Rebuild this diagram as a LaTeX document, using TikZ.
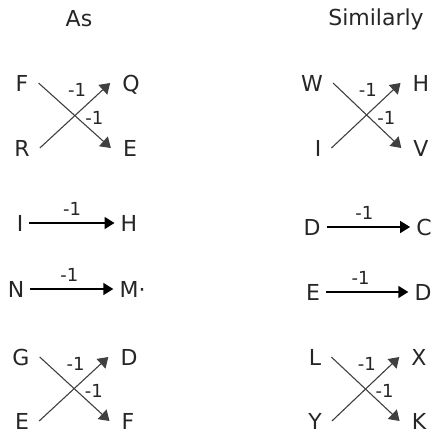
\documentclass[tikz,border=0pt]{standalone}
\usepackage{fontspec}
\setmainfont{DejaVu Sans}
\usetikzlibrary{arrows.meta,positioning}

\begin{document}
\begin{tikzpicture}[
  x=1pt, y=-1pt,
  letter/.style={inner xsep=6pt, inner ysep=0pt, text height=16pt, text depth=0pt,
    text=black!85, font=\fontsize{22}{26}\selectfont},
  xl/.style={letter, inner xsep=10pt},
  xr/.style={letter, inner xsep=12pt},
  title/.style={letter, inner sep=0pt},
  lab/.style={inner sep=0pt, text height=13pt, text depth=0pt, text=black!85,
    font=\fontsize{18}{22}\selectfont},
  harrow/.style={-{Triangle[length=10pt,width=12pt]}, line width=1.5pt},
  xarrow/.style={-{Triangle[length=10pt,width=13pt]}, line width=1.1pt, black!75}
]
  \useasboundingbox (0,0) rectangle (436,434);

  \node[title] (as) at (79,18) {As};
  \node[title] (sim) at (376,17) {Similarly};

  % left column
  \node[xl] (F) at (22,83) {F};
  \node[xl] (R) at (22,148) {R};
  \node[xr] (Q) at (131,83) {Q};
  \node[xr] (Ea) at (130,148) {E};
  \draw[xarrow] (F.east) -- node[lab, pos=.64, anchor=south west] {-1} (Ea.west);
  \draw[xarrow] (R.east) -- node[lab, pos=.78, above left=0pt and 8pt] {-1} (Q.west);

  \node[letter] (Ia) at (20,223) {I};
  \node[letter] (Ha) at (129,223) {H};
  \draw[harrow] (Ia) -- node[lab, pos=.5, above=7pt] {-1} (Ha);

  \node[letter] (N) at (16,289) {N};
  \node[letter] (M) at (132.5,289) {M·};
  \draw[harrow] (N) -- node[lab, pos=.47, above=7pt] {-1} (M);

  \node[xl] (G) at (21,357) {G};
  \node[xl] (Eb) at (22,421) {E};
  \node[xr] (Da) at (129,357) {D};
  \node[xr] (Fb) at (128,421) {F};
  \draw[xarrow] (G.east) -- node[lab, pos=.64, anchor=south west] {-1} (Fb.west);
  \draw[xarrow] (Eb.east) -- node[lab, pos=.78, above left=0pt and 8pt] {-1} (Da.west);

  % right column
  \node[xl] (W) at (312,83) {W};
  \node[xl] (Ib) at (318,148) {I};
  \node[xr] (Hb) at (421,83) {H};
  \node[xr] (V) at (421,148) {V};
  \draw[xarrow] (W.east) -- node[lab, pos=.64, anchor=south west] {-1} (V.west);
  \draw[xarrow] (Ib.east) -- node[lab, pos=.78, above left=0pt and 8pt] {-1} (Hb.west);

  \node[letter] (Db) at (312,227) {D};
  \node[letter] (C) at (424,227) {C};
  \draw[harrow] (Db) -- node[lab, pos=.45, above=7pt] {-1} (C);

  \node[letter] (Ec) at (313,292) {E};
  \node[letter] (Dc) at (423,292) {D};
  \draw[harrow] (Ec) -- node[lab, pos=.42, above=7pt] {-1} (Dc);

  \node[xl] (L) at (315,357) {L};
  \node[xl] (Y) at (315,421) {Y};
  \node[xr] (X) at (419,357) {X};
  \node[xr] (K) at (419,421) {K};
  \draw[xarrow] (L.east) -- node[lab, pos=.64, anchor=south west] {-1} (K.west);
  \draw[xarrow] (Y.east) -- node[lab, pos=.78, above left=0pt and 8pt] {-1} (X.west);
\end{tikzpicture}
\end{document}
